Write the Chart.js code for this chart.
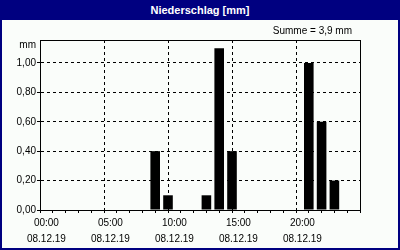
<!DOCTYPE html>
<html><head><meta charset="utf-8">
<script src="https://cdn.jsdelivr.net/npm/chart.js@4"></script>
<style>
html,body{margin:0;padding:0;background:#fff;}
#frame{position:relative;width:396px;height:246px;border:2px solid #000080;background:#fafdfa;}
#title{height:18px;background:#000080;color:#fff;font:bold 11px 'Liberation Sans',Arial,sans-serif;text-align:center;line-height:16px;}
#wrap{position:absolute;left:0;top:18px;width:396px;height:228px;}
</style></head>
<body>
<div id="frame"><div id="title">Niederschlag [mm]</div><div id="wrap"><canvas id="c" width="396" height="228"></canvas></div></div>
<script>
// Data
const hours = [8, 9, 12, 13, 14, 20, 21, 22];          // start hour of each hourly bar
const values = [0.4, 0.1, 0.1, 1.1, 0.4, 1.0, 0.6, 0.2]; // mm
const yTicks = [0, 0.2, 0.4, 0.6, 0.8, 1.0];
const xTickHours = Array.from({length: 25}, (_, i) => i);
const xLabelHours = [0, 5, 10, 15, 20];
const xTimeLabels = ['00:00', '05:00', '10:00', '15:00', '20:00'];
const dateLabel = '08.12.19';
const yUnit = 'mm';

const FONT = '"Liberation Sans", Arial, sans-serif';
const FSIZE = 10;
const fmt = v => v.toFixed(2).replace('.', ',');
const total = values.reduce((a, b) => a + b, 0);

const extras = {
  id: 'extras',
  afterDraw(chart) {
    const {ctx, chartArea: a} = chart;
    ctx.save();
    ctx.strokeStyle = '#000';
    ctx.lineWidth = 1;
    ctx.setLineDash([]);
    ctx.strokeRect(a.left + 0.5, a.top + 0.5, a.right - a.left, a.bottom - a.top);
    ctx.fillStyle = '#000';
    ctx.font = FSIZE + 'px ' + FONT;
    ctx.textBaseline = 'middle';
    ctx.textAlign = 'right';
    ctx.fillText('Summe = ' + total.toFixed(1).replace('.', ',') + ' mm', a.right - 8, a.top - 9);
    ctx.fillText(yUnit, a.left - 4, a.top + 5);
    ctx.restore();
  }
};

new Chart(document.getElementById('c'), {
  type: 'bar',
  data: {
    datasets: [{
      data: hours.map((h, i) => ({x: h + 0.5, y: values[i]})),
      backgroundColor: '#000',
      borderWidth: 0,
      barPercentage: 0.75,
      categoryPercentage: 1.0
    }]
  },
  options: {
    responsive: false,
    maintainAspectRatio: false,
    devicePixelRatio: 1,
    animation: false,
    layout: {padding: {top: 20, right: 38, bottom: 0, left: 0}},
    plugins: {legend: {display: false}, tooltip: {enabled: false}, title: {display: false}},
    scales: {
      x: {
        type: 'linear',
        min: 0, max: 24,
        afterBuildTicks: s => { s.ticks = xTickHours.map(v => ({value: v})); },
        afterFit: s => { s.height = 38; },
        grid: {
          color: c => (c.tick && xLabelHours.includes(c.tick.value) && c.tick.value > 0) ? '#000' : 'transparent',
          tickColor: '#000',
          tickLength: 3,
          lineWidth: 1
        },
        border: {display: true, color: '#000', width: 1, dash: [3, 3]},
        ticks: {
          autoSkip: false, maxRotation: 0, minRotation: 0, padding: 2,
          color: '#000',
          font: {family: FONT, size: FSIZE, lineHeight: 1.6},
          callback: v => { const i = xLabelHours.indexOf(v); return i >= 0 ? [xTimeLabels[i], dateLabel] : ''; }
        }
      },
      y: {
        type: 'linear',
        min: 0, max: 1.156,
        afterBuildTicks: s => { s.ticks = yTicks.map(v => ({value: v})); },
        afterFit: s => { s.width = 38; },
        grid: {
          color: c => (c.tick && c.tick.value > 0) ? '#000' : 'transparent',
          tickColor: '#000',
          tickLength: 3,
          lineWidth: 1
        },
        border: {display: true, color: '#000', width: 1, dash: [3, 3]},
        ticks: {
          padding: 1,
          color: '#000',
          font: {family: FONT, size: FSIZE},
          callback: v => fmt(v)
        }
      }
    }
  },
  plugins: [extras]
});
</script>
</body></html>
